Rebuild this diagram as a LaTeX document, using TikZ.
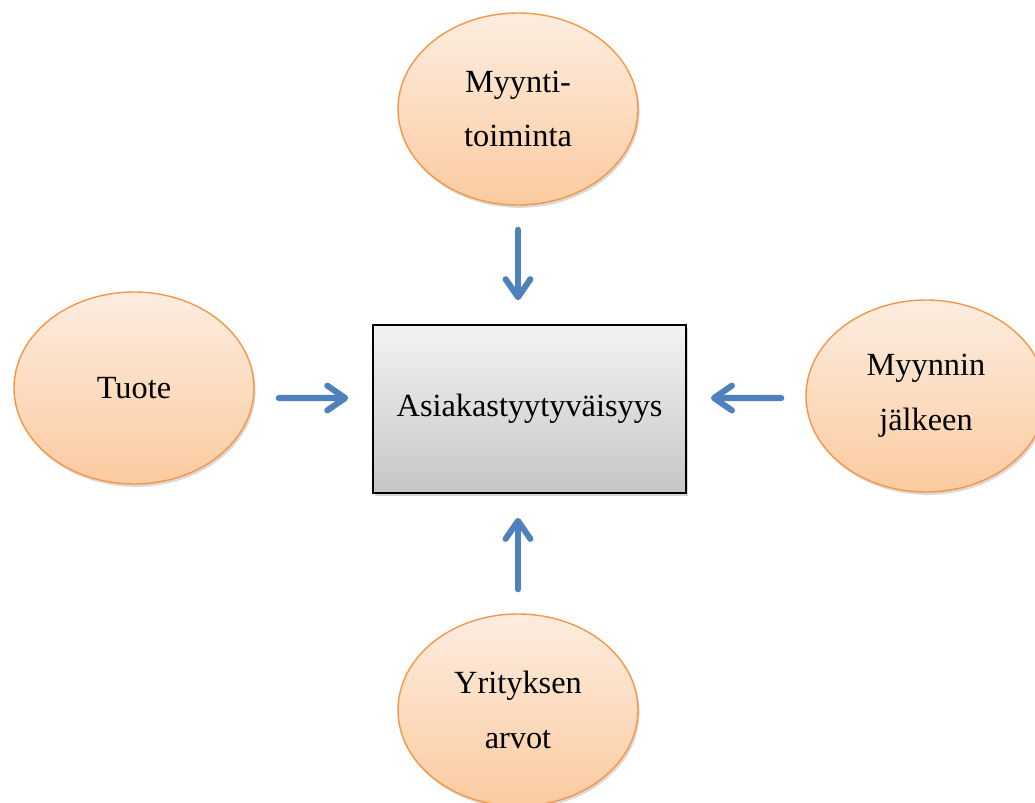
\documentclass[tikz,border=0pt]{standalone}
\usepackage{fontspec}
\setmainfont{Liberation Serif}
\usetikzlibrary{arrows.meta,shadows,shapes.geometric}

\definecolor{oranssiReuna}{RGB}{247,150,70}
\definecolor{oranssiYla}{RGB}{253,237,224}
\definecolor{oranssiAla}{RGB}{251,203,160}
\definecolor{harmaaYla}{RGB}{243,243,243}
\definecolor{harmaaAla}{RGB}{198,198,198}
\definecolor{nuoliSini}{RGB}{79,129,189}

\begin{document}
\begin{tikzpicture}[
    font=\fontsize{23}{39}\selectfont,
    % Ellipsit ympärillä: oranssi liukuväri
    pallo/.style={ellipse, draw=oranssiReuna, line width=1pt,
        top color=oranssiYla, bottom color=oranssiAla,
        minimum width=6cm, minimum height=4.8cm, align=center,
        drop shadow={shadow xshift=0.04cm, shadow yshift=-0.07cm, opacity=0.3}},
    % Keskimmäinen laatikko
    laatikko/.style={rectangle, draw=black, line width=1.2pt,
        top color=harmaaYla, bottom color=harmaaAla,
        minimum width=7.825cm, minimum height=4.2cm,
        drop shadow={shadow xshift=0.04cm, shadow yshift=-0.08cm, opacity=0.35}},
    % Siniset nuolet, irti solmujen reunoista
    nuoli/.style={draw=nuoliSini, line width=4.3pt, line cap=round,
        -{Straight Barb[length=0.45cm, width=0.62cm, round]},
        shorten >=0.6cm, shorten <=0.6cm}
]

% =========================================================
% === SIJAINNIT (cm, origo vasemmassa yläkulmassa) ===
% =========================================================
\def\keskiX{12.95}  % Ylä- ja alaellipsin keskikohta
\def\ylaY{-2.725}
\def\alaY{-17.75}
% =========================================================

\useasboundingbox (0,0) rectangle (25.875,-20.05);

% --- Ellipsit ---
\node[pallo] (myynti) at (\keskiX, \ylaY) {Myynti-\\toiminta};
\node[pallo] (tuote) at (3.35, -9.7) {Tuote};
\node[pallo] (jalkeen) at (23.15, -9.9) {Myynnin\\jälkeen};
\node[pallo] (arvot) at (\keskiX, \alaY) {Yrityksen\\arvot};

% --- Keskus ---
\node[laatikko] (tyytyvaisyys) at (13.24, -10.225) {Asiakastyytyväisyys};

% --- Nuolet kohti keskusta ---
\draw[nuoli] (myynti.south) -- (myynti.south |- tyytyvaisyys.north);
\draw[nuoli] (arvot.north) -- (arvot.north |- tyytyvaisyys.south);
\draw[nuoli] ([yshift=-0.25cm]tuote.east) -- ([yshift=0.275cm]tyytyvaisyys.west);
\draw[nuoli] ([yshift=-0.05cm]jalkeen.west) -- ([yshift=0.275cm]tyytyvaisyys.east);

\end{tikzpicture}
\end{document}
